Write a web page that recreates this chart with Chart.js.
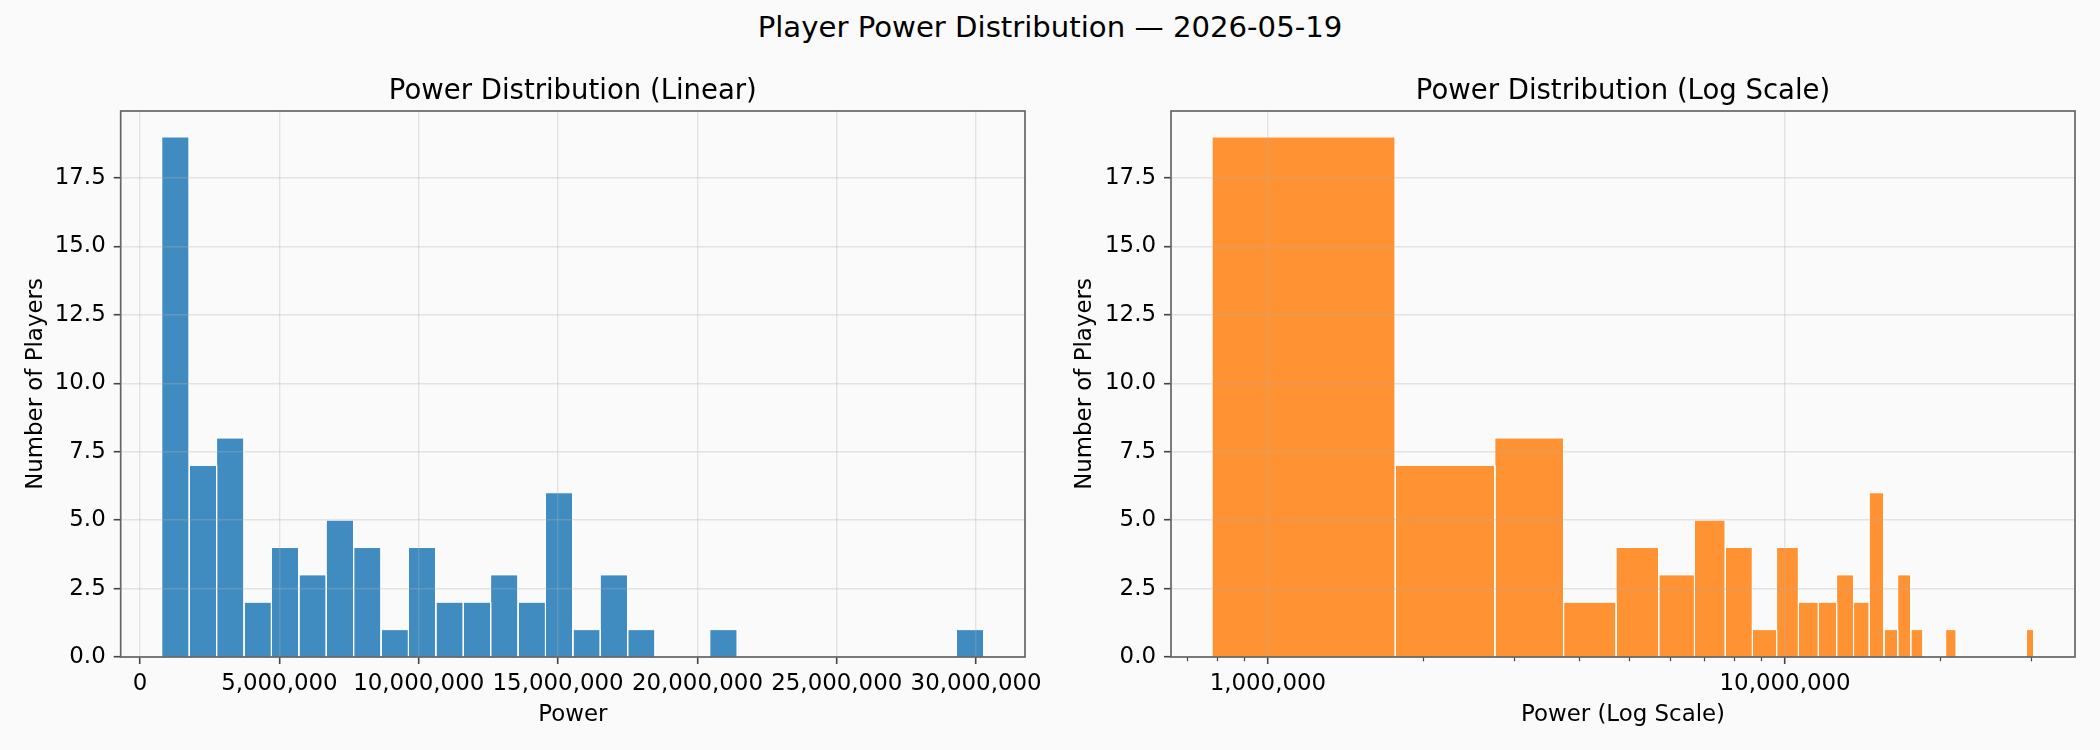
<!DOCTYPE html>
<html>
<head>
<meta charset="utf-8">
<title>Player Power Distribution</title>
<script src="https://cdn.jsdelivr.net/npm/chart.js@4.4.1/dist/chart.umd.min.js"></script>
<style>
  html, body { margin: 0; padding: 0; background: #fafafa; }
  body { width: 2100px; height: 750px; position: relative; overflow: hidden; font-family: "DejaVu Sans", sans-serif; }
  #suptitle { position: absolute; left: 0; top: 13px; width: 2100px; text-align: center; font-size: 29.17px; line-height: 1; color: #000; }
  canvas { position: absolute; top: 0; }
  #linear { left: 0; }
  #log { left: 1060px; }
</style>
</head>
<body>
<div id="suptitle">Player Power Distribution — 2026-05-19</div>
<canvas id="linear" width="1060" height="750"></canvas>
<canvas id="log" width="1040" height="750"></canvas>
<script>
// histogram bins (30 equal-width bins)
const binEdges = [
  780000, 1763000, 2747000, 3730000, 4713000, 5697000, 6680000, 7663000,
  8647000, 9630000, 10613000, 11597000, 12580000, 13563000, 14547000, 15530000,
  16513000, 17497000, 18480000, 19463000, 20447000, 21430000, 22413000, 23397000,
  24380000, 25363000, 26347000, 27330000, 28313000, 29297000, 30280000
];
const playerCounts = [
  19, 7, 8, 2, 4, 3, 5, 4, 1, 4,
  2, 2, 3, 2, 6, 1, 3, 1, 0, 0,
  1, 0, 0, 0, 0, 0, 0, 0, 0, 1
];

// tick positions
const countTicks = [0, 2.5, 5, 7.5, 10, 12.5, 15, 17.5];
const linearPowerTicks = [0, 5000000, 10000000, 15000000, 20000000, 25000000, 30000000];
const logMajorTicks = [1000000, 10000000];
const logMinorTicks = [
  700000, 800000, 900000,
  2000000, 3000000, 4000000, 5000000, 6000000, 7000000, 8000000, 9000000,
  20000000, 30000000
];

const FONT = "DejaVu Sans";
const TEXT = "#000000";
const SPINE = "#666666";
const TICK = "#444444";
const GRID = "rgba(176,176,176,0.3)";
const tickFont = { family: FONT, size: 22.9 };
const labelFont = { family: FONT, size: 22.9, lineHeight: 1.2 };
const titleFont = { family: FONT, size: 27.5, weight: "normal", lineHeight: 1.2 };

// matplotlib-like 5% margins
const lo = binEdges[0], hi = binEdges[binEdges.length - 1];
const linMin = lo - 0.05 * (hi - lo), linMax = hi + 0.05 * (hi - lo);
const lgLo = Math.log10(lo), lgHi = Math.log10(hi);
const logMin = Math.pow(10, lgLo - 0.05 * (lgHi - lgLo));
const logMax = Math.pow(10, lgHi + 0.05 * (lgHi - lgLo));
const yMax = Math.max(...playerCounts) * 1.05;

// one filled outline per non-empty bin
function binDatasets(fill) {
  const sets = [];
  playerCounts.forEach((n, i) => {
    if (!n) return;
    const a = binEdges[i], b = binEdges[i + 1];
    sets.push({
      data: [{ x: a, y: 0 }, { x: a, y: n }, { x: b, y: n }, { x: b, y: 0 }],
      xAxisID: "x",
      yAxisID: "y",
      backgroundColor: fill,
      borderColor: "#ffffff",
      borderWidth: 1,
      fill: "origin",
      pointRadius: 0,
      pointHoverRadius: 0,
      tension: 0,
    });
  });
  return sets;
}

const frame = {
  id: "frame",
  afterDraw(chart) {
    const { ctx, chartArea: a } = chart;
    ctx.save();
    ctx.strokeStyle = SPINE;
    ctx.lineWidth = 1.7;
    ctx.strokeRect(a.left, a.top, a.right - a.left, a.bottom - a.top);
    ctx.restore();
  },
};

function gridOpts() {
  return { color: GRID, lineWidth: 1.4, z: 1, tickLength: 7, tickColor: TICK, tickWidth: 1.6 };
}

function yScale(width, titlePad) {
  return {
    type: "linear",
    min: 0,
    max: yMax,
    bounds: "data",
    afterBuildTicks: (s) => { s.ticks = countTicks.map((v) => ({ value: v })); },
    afterFit: (s) => { s.width = width; },
    ticks: { font: tickFont, color: TEXT, padding: 8, callback: (v) => Number(v).toFixed(1) },
    grid: gridOpts(),
    border: { display: false },
    title: { display: true, text: "Number of Players", font: labelFont, color: TEXT, padding: { top: titlePad, bottom: 0 } },
  };
}

function xTitle(text) {
  return { display: true, text: text, font: labelFont, color: TEXT, padding: { top: 0, bottom: 20.75 } };
}

function baseOptions(title, rightPad, scales) {
  return {
    responsive: false,
    animation: false,
    devicePixelRatio: 1,
    events: [],
    layout: { padding: { left: 0, right: rightPad, top: 0, bottom: 0 } },
    plugins: {
      legend: { display: false },
      tooltip: { enabled: false },
      title: {
        display: true,
        text: title,
        fullSize: false,
        color: TEXT,
        font: titleFont,
        padding: { top: 75, bottom: 3 },
      },
    },
    scales: scales,
  };
}

new Chart(document.getElementById("linear"), {
  type: "line",
  data: { datasets: binDatasets("rgba(31,119,180,0.85)") },
  options: baseOptions("Power Distribution (Linear)", 35, {
    x: {
      type: "linear",
      position: "bottom",
      min: linMin,
      max: linMax,
      bounds: "data",
      afterBuildTicks: (s) => { s.ticks = linearPowerTicks.map((v) => ({ value: v })); },
      afterFit: (s) => { s.height = 93; },
      ticks: { font: tickFont, color: TEXT, padding: 6, autoSkip: false, maxRotation: 0, minRotation: 0,
        callback: (v) => Number(v).toLocaleString("en-US") },
      grid: gridOpts(),
      border: { display: false },
      title: xTitle("Power"),
    },
    y: yScale(120.7, 22.25),
  }),
  plugins: [frame],
});

new Chart(document.getElementById("log"), {
  type: "line",
  data: { datasets: binDatasets("rgba(255,127,14,0.85)") },
  options: baseOptions("Power Distribution (Log Scale)", 25, {
    x: {
      type: "logarithmic",
      position: "bottom",
      weight: 1,
      min: logMin,
      max: logMax,
      bounds: "data",
      afterBuildTicks: (s) => { s.ticks = logMajorTicks.map((v) => ({ value: v })); },
      afterFit: (s) => { s.height = 93; },
      ticks: { font: tickFont, color: TEXT, padding: 6, autoSkip: false, maxRotation: 0, minRotation: 0,
        callback: (v) => Number(v).toLocaleString("en-US") },
      grid: gridOpts(),
      border: { display: false },
      title: xTitle("Power (Log Scale)"),
    },
    xMinor: {
      axis: "x",
      type: "logarithmic",
      position: "bottom",
      weight: 0,
      min: logMin,
      max: logMax,
      bounds: "data",
      afterBuildTicks: (s) => { s.ticks = logMinorTicks.map((v) => ({ value: v })); },
      afterFit: (s) => { s.height = 0; },
      ticks: { display: false },
      grid: { drawOnChartArea: false, tickLength: 4.2, tickColor: TICK, tickWidth: 1.2, z: 1 },
      border: { display: false },
    },
    y: yScale(111, 11.25),
  }),
  plugins: [frame],
});
</script>
</body>
</html>
